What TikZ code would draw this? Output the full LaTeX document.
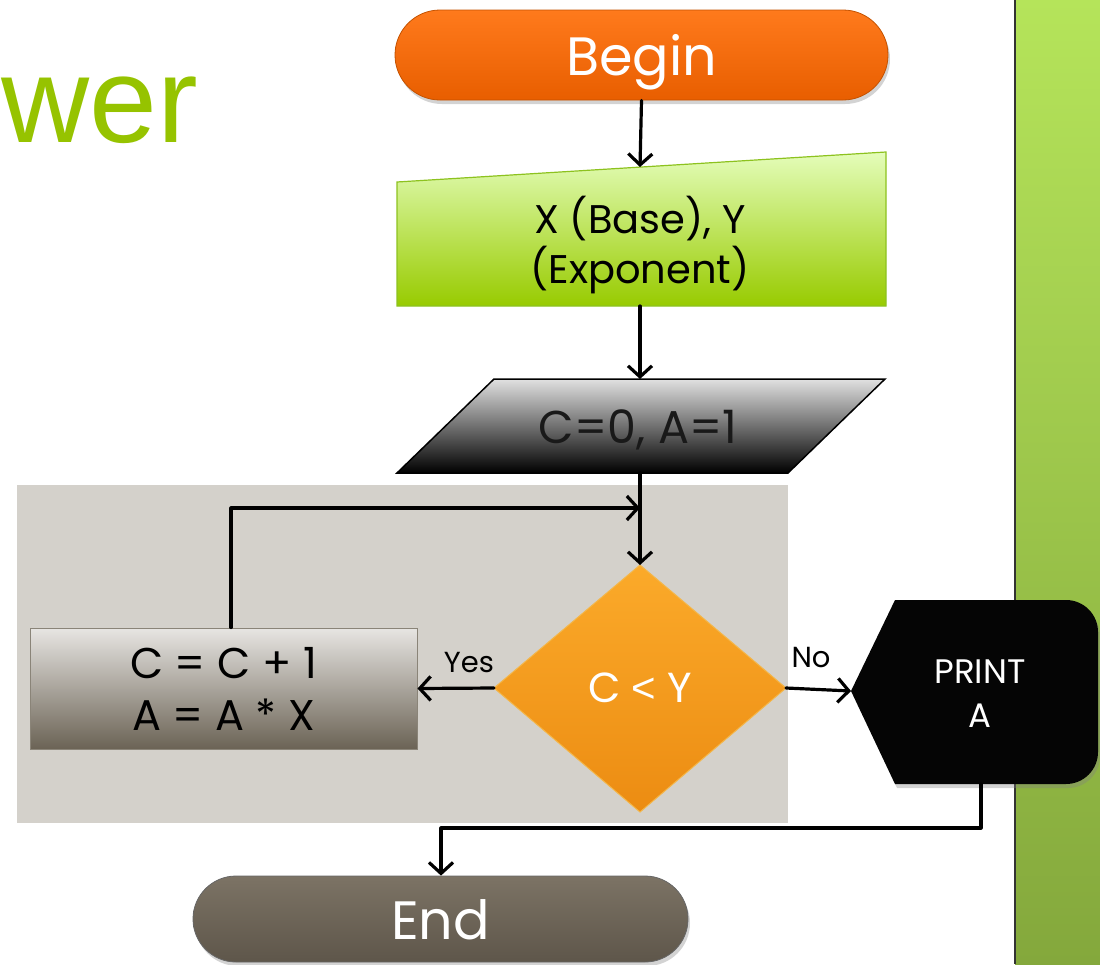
\documentclass[tikz,border=0pt]{standalone}
\usepackage{fontspec}
\setmainfont{Poppins}
\newfontfamily\titlefont{Liberation Sans}
\newfontfamily\symfont{Liberation Sans}
\usetikzlibrary{arrows.meta,shadows}

\definecolor{titlegreen}{HTML}{96C300}
\definecolor{orangetop}{HTML}{FF7A1C}
\definecolor{orangebot}{HTML}{E85E00}
\definecolor{orangeline}{HTML}{C45200}
\definecolor{limetop}{HTML}{E4FDBA}
\definecolor{limebot}{HTML}{98CB00}
\definecolor{limeline}{HTML}{8DC21F}
\definecolor{panelgray}{HTML}{D4D1CB}
\definecolor{ambertop}{HTML}{FBAA2A}
\definecolor{amberbot}{HTML}{EC8C12}
\definecolor{amberline}{HTML}{F4B648}
\definecolor{stonetop}{HTML}{E7E5E2}
\definecolor{stonebot}{HTML}{6B6355}
\definecolor{stoneline}{HTML}{8A8478}
\definecolor{endtop}{HTML}{7C7365}
\definecolor{endbot}{HTML}{5E564A}
\definecolor{bartop}{HTML}{B5E45A}
\definecolor{barbot}{HTML}{84A83C}

\tikzset{
  flow/.style={line width=3.2pt, line cap=round, line join=round,
    -{Straight Barb[length=11pt,width=24pt,line width=3.2pt]}},
  label/.style={inner sep=0pt, align=center},
  branch/.style={inner sep=0pt, font=\fontsize{29}{29}\selectfont},
  softshadow/.style={drop shadow={opacity=0.35, shadow xshift=2pt, shadow yshift=-4pt}},
  terminal/.style={softshadow, line width=0.8pt, inner sep=0pt, text=white,
    font=\fontsize{54}{54}\selectfont, text height=40pt, text depth=0pt},
}

\begin{document}
\begin{tikzpicture}[x=1pt,y=-1pt]
\useasboundingbox (0,0) rectangle (1100,964);

% side bar
\shade[top color=bartop, bottom color=barbot] (1015,0) rectangle (1100,964);
\draw[line width=1.5pt, black!80] (1015,0) -- (1015,964);

% title fragment
\node[anchor=base west, inner sep=0pt, text=titlegreen, font=\titlefont\fontsize{122}{122}\selectfont]
  (title) at (1,142) {wer};

% loop panel
\fill[panelgray] (17,485) rectangle (788,823);

% Begin terminal
\node[terminal, draw=orangeline, top color=orangetop, bottom color=orangebot,
  rounded corners=45pt, minimum width=493pt, minimum height=90pt] (begin) at (641.5,55) {Begin};

% manual input
\path[draw=limeline, line width=1.2pt, top color=limetop, bottom color=limebot]
  (397,182) -- (886,152) -- (886,306) -- (397,306) -- cycle;
\coordinate (inTop) at (640,167);
\coordinate (inBot) at (640,306);
\node[label, font=\fontsize{40}{50}\selectfont] (inText) at (640,245)
  {X (Base), Y\\(Exponent)};

% initialisation
\path[draw=black, line width=1.5pt, top color=black!12, bottom color=black]
  (494,379) -- (885,379) -- (788,473) -- (397,473) -- cycle;
\coordinate (initTop) at (640,379);
\coordinate (initBot) at (640,473);
\node[label, text=black!90, font=\fontsize{46}{46}\selectfont] (initText) at (638,430) {C=0, A=1};

% decision
\path[draw=amberline, line width=1pt, top color=ambertop, bottom color=amberbot]
  (640,565) -- (786,688) -- (640,812) -- (494,688) -- cycle;
\coordinate (decTop) at (640,565);
\coordinate (decLeft) at (494,688);
\coordinate (decRight) at (786,688);
\node[label, text=white, font=\fontsize{42}{42}\selectfont] (decText) at (640,688)
  {C {\symfont <} Y};

% update step
\node[draw=stoneline, line width=1pt, top color=stonetop, bottom color=stonebot,
  minimum width=387pt, minimum height=121pt, inner sep=0pt, align=center,
  font=\fontsize{43}{52}\selectfont] (update) at (223.5,688.5) {C = C + 1\\A = A * X};

% output
\path[softshadow, fill=black!98]
  (851,691) -- (895,600) [rounded corners=32pt] -- (1098,600) -- (1098,784)
  [sharp corners] -- (895,784) -- cycle;
\coordinate (outLeft) at (851,691);
\coordinate (outBot) at (981,784);
\node[label, text=white, font=\fontsize{34}{44}\selectfont] (outText) at (980,694) {PRINT\\A};

% End terminal
\node[terminal, draw=black!60, top color=endtop, bottom color=endbot,
  rounded corners=43pt, minimum width=495pt, minimum height=86pt] (end) at (440.5,919) {End};

% connectors
\coordinate (join) at (640,508);
\coordinate (loopCorner) at (231,508);
\coordinate (exitCorner) at (981,828);
\coordinate (exitTurn) at (441,828);

\draw[flow] (begin.south) -- (inTop);
\draw[flow] (inBot) -- (initTop);
\draw[flow] (initBot) -- (decTop);
\draw[flow] (update.north -| loopCorner) -- (loopCorner) -- (join);
\draw[flow] (decLeft) -- (update.east);
\draw[flow] (decRight) -- (outLeft);
\draw[flow] (outBot) -- (exitCorner) -- (exitTurn) -- (end.north -| exitTurn);

% branch labels
\node[branch] (yes) at (469,663) {Yes};
\node[branch] (no) at (811,658) {No};
\end{tikzpicture}
\end{document}
